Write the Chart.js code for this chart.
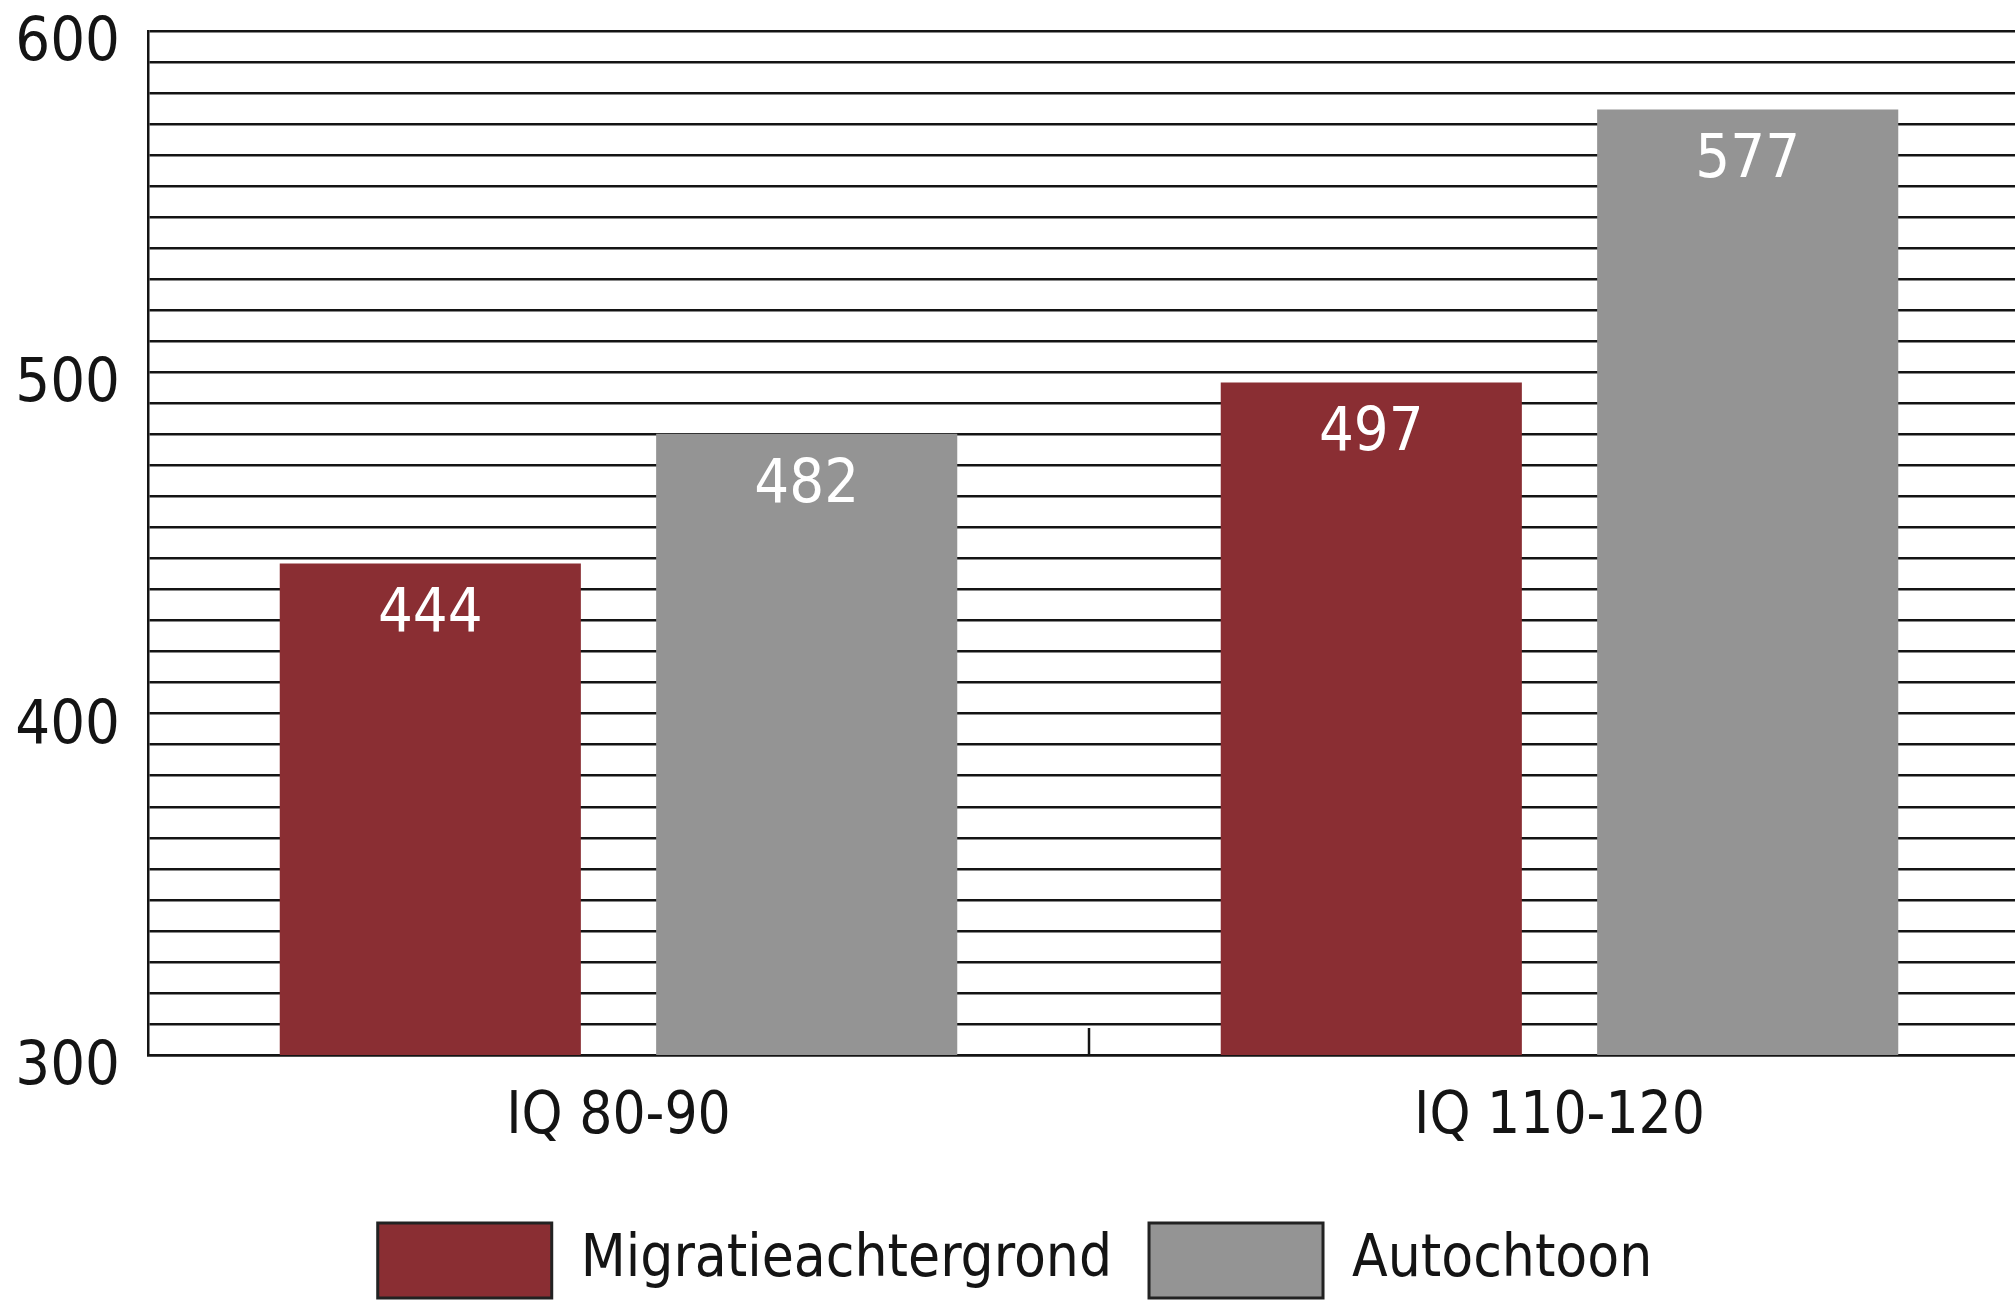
<!DOCTYPE html>
<html>
<head>
<meta charset="utf-8">
<script src="https://cdn.jsdelivr.net/npm/chart.js@4/dist/chart.umd.min.js"></script>
<style>
  html, body { margin: 0; padding: 0; background: #ffffff; overflow: hidden; width: 2015px; height: 1308px; }
  #wrap { width: 2030px; height: 1308px; position: relative; }
</style>
</head>
<body>
<div id="wrap"><canvas id="c"></canvas></div>
<script>
// ---- data ----
const categories = ['IQ 80-90', 'IQ 110-120'];
const seriesNames = ['Migratieachtergrond', 'Autochtoon'];
const migratieValues = [444, 497];
const autochtoonValues = [482, 577];
const yTickLabels = [300, 400, 500, 600];
const gridStepsPerLabel = 11;

// ---- styling ----
const FONT = "'Liberation Sans Narrow', 'DejaVu Sans Condensed', 'Liberation Sans', sans-serif";
const RED = '#8a2e33';
const GREY = '#949494';
const INK = '#141414';

function buildTickValues() {
  const vals = [];
  for (let i = 0; i < yTickLabels.length - 1; i++) {
    const a = yTickLabels[i], b = yTickLabels[i + 1];
    for (let k = 0; k < gridStepsPerLabel; k++) vals.push(a + (b - a) * k / gridStepsPerLabel);
  }
  vals.push(yTickLabels[yTickLabels.length - 1]);
  return vals;
}

const valueLabels = {
  id: 'valueLabels',
  afterDatasetsDraw(chart) {
    const ctx = chart.ctx;
    ctx.save();
    ctx.font = "61px " + FONT;
    ctx.fillStyle = '#ffffff';
    ctx.textAlign = 'center';
    ctx.textBaseline = 'middle';
    chart.data.datasets.forEach((ds, i) => {
      chart.getDatasetMeta(i).data.forEach((bar, j) => {
        ctx.fillText(String(ds.data[j]), bar.x, bar.y + 52);
      });
    });
    ctx.restore();
  }
};

const categoryDivider = {
  id: 'categoryDivider',
  afterDatasetsDraw(chart) {
    const xs = chart.scales.x;
    const ctx = chart.ctx;
    const area = chart.chartArea;
    ctx.save();
    ctx.strokeStyle = INK;
    ctx.lineWidth = 2.5;
    for (let i = 0; i < categories.length - 1; i++) {
      const x = Math.round((xs.getPixelForValue(i) + xs.getPixelForValue(i + 1)) / 2);
      ctx.beginPath();
      ctx.moveTo(x, area.bottom);
      ctx.lineTo(x, area.bottom - 27);
      ctx.stroke();
    }
    ctx.restore();
  }
};

new Chart(document.getElementById('c'), {
  type: 'bar',
  data: {
    labels: categories,
    datasets: [
      { label: seriesNames[0], data: migratieValues, backgroundColor: RED, borderWidth: 0,
        categoryPercentage: 0.8, barPercentage: 0.8 },
      { label: seriesNames[1], data: autochtoonValues, backgroundColor: GREY, borderWidth: 0,
        categoryPercentage: 0.8, barPercentage: 0.8 }
    ]
  },
  options: {
    responsive: true,
    maintainAspectRatio: false,
    animation: false,
    layout: { padding: { top: 31, left: 0, right: 0, bottom: 0 } },
    plugins: {
      tooltip: { enabled: false },
      legend: {
        display: true,
        position: 'bottom',
        labels: {
          boxWidth: 174,
          boxHeight: 75,
          padding: 37,
          color: INK,
          font: { family: FONT, size: 58 },
          generateLabels(chart) {
            const items = Chart.defaults.plugins.legend.labels.generateLabels(chart);
            items.forEach(it => { it.lineWidth = 3; it.strokeStyle = '#222222'; });
            return items;
          }
        }
      }
    },
    scales: {
      x: {
        type: 'category',
        offset: true,
        grid: { display: false, drawTicks: false },
        border: { display: true, color: INK, width: 2.5 },
        ticks: { color: INK, padding: 34, font: { family: FONT, size: 58, lineHeight: 1.0 } },
        afterFit(s) { s.height = 131; }
      },
      y: {
        min: yTickLabels[0],
        max: yTickLabels[yTickLabels.length - 1],
        afterBuildTicks(s) { s.ticks = buildTickValues().map(v => ({ value: v })); },
        afterFit(s) { s.width = 148; },
        grid: { color: INK, lineWidth: 2.5, drawTicks: false },
        border: { display: true, color: INK, width: 2.5 },
        ticks: {
          color: INK,
          padding: 28,
          labelOffset: 13,
          autoSkip: false,
          font: { family: FONT, size: 61, lineHeight: 0.02 },
          callback(value) {
            const hit = yTickLabels.find(t => Math.abs(t - value) < 1e-6);
            return hit === undefined ? '' : String(hit);
          }
        }
      }
    }
  },
  plugins: [valueLabels, categoryDivider]
});
</script>
</body>
</html>
